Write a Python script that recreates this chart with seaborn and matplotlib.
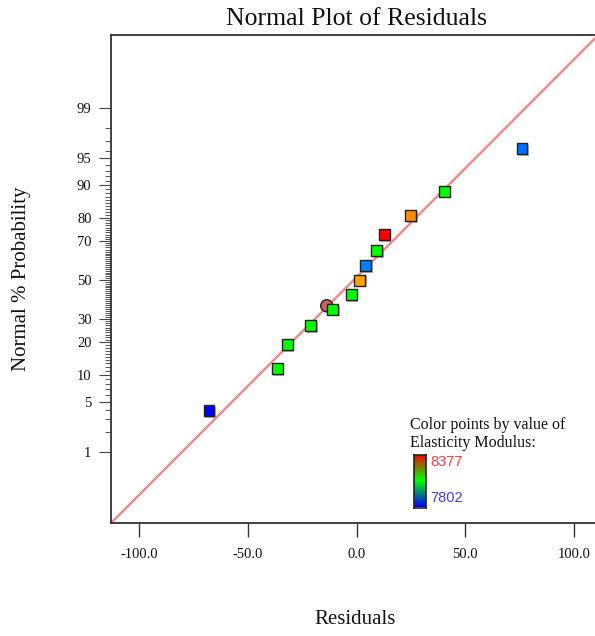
import matplotlib
matplotlib.use('Agg')
import numpy as np
import pandas as pd
import seaborn as sns
from matplotlib import pyplot as plt
from matplotlib import patheffects
from matplotlib.colors import LinearSegmentedColormap
from statistics import NormalDist

# values
residuals = [-68.0, -36.6, -32.0, -21.2, -11.1, -2.5, 1.5, 4.0, 9.2, 12.6, 24.9, 40.3, 76.1]
probability = [3.9, 11.5, 19.2, 26.9, 34.6, 42.3, 50.0, 57.7, 65.4, 73.1, 80.8, 88.5, 96.2]
modulus = [7802, 8090, 8090, 8090, 8090, 8090, 8284, 7874, 8090, 8377, 8298, 8090, 7866]

# the one run drawn as a circle
highlight_residual = [-13.8]
highlight_probability = [36.4]

# fitted normal line: residual = mean + sd * z
line_mean = -1.4
line_sd = 34.0

modulus_range = (7802, 8377)
y_major = [1, 5, 10, 20, 30, 50, 70, 80, 90, 95, 99]
y_minor = [p for p in range(1, 100) if p not in y_major]
x_ticks = [-100.0, -50.0, 0.0, 50.0, 100.0]


def probit(p):
    return NormalDist().inv_cdf(p / 100.0)


df = pd.DataFrame({'residual': residuals, 'probability': probability, 'modulus': modulus})
df['z'] = df['probability'].apply(probit)
hl = pd.DataFrame({'residual': highlight_residual, 'probability': highlight_probability})
hl['z'] = hl['probability'].apply(probit)

sns.set_style('white')
plt.rcParams['font.family'] = ['Liberation Serif', 'DejaVu Serif']

fig = plt.figure(figsize=(5.95, 6.36), dpi=100)
ax = fig.add_axes([111 / 595, 113 / 636, 491.4 / 595, 488 / 636])

ylim = (-3.285, 3.313)
line_df = pd.DataFrame({'z': np.array(ylim) * 1.05})
line_df['residual'] = line_mean + line_sd * line_df['z']
sns.lineplot(data=line_df, x='residual', y='z', color='#f58585', lw=1.7, ax=ax, sort=False)

# marker colours: blue -> cyan -> green -> yellow -> red
point_cmap = LinearSegmentedColormap.from_list(
    'points', ['#0000ff', '#00ffff', '#00ff00', '#ffff00', '#ff0000'])
shadow = [patheffects.SimplePatchShadow(offset=(1.2, -1.2), shadow_rgbFace='#888888', alpha=0.6),
          patheffects.Normal()]

sns.scatterplot(data=hl, x='residual', y='z', marker='o', s=75, color='#cd6060',
                edgecolor='#222222', linewidth=1, ax=ax, zorder=3)
sns.scatterplot(data=df, x='residual', y='z', hue='modulus', palette=point_cmap,
                hue_norm=modulus_range, marker='s', s=62, edgecolor='#222222',
                linewidth=1, legend=False, ax=ax, zorder=4)
for coll in ax.collections:
    coll.set_path_effects(shadow)

ax.set_xlim(-113.1, 113.1)
ax.set_ylim(*ylim)
ax.set_xticks(x_ticks)
ax.set_xticklabels([f'{v:.1f}' for v in x_ticks])
ax.set_yticks([probit(p) for p in y_major])
ax.set_yticklabels([str(p) for p in y_major])
ax.set_yticks([probit(p) for p in y_minor], minor=True)
ax.set_xlabel('')
ax.set_ylabel('')

for side in ['left', 'top', 'bottom']:
    ax.spines[side].set_color('#333333')
    ax.spines[side].set_linewidth(1.3)
ax.spines['right'].set_visible(False)

ax.tick_params(axis='x', which='major', bottom=True, length=10, width=1.0, color='#333333',
               pad=8, labelsize=10.5, labelcolor='#111111')
ax.tick_params(axis='y', which='major', left=True, length=9, width=0.8, color='#444444',
               pad=5, labelsize=10.5, labelcolor='#111111')
ax.tick_params(axis='y', which='minor', left=True, length=4.2, width=0.7, color='#555555')

fig.text(356.5 / 595, 1 - 19 / 636, 'Normal Plot of Residuals', ha='center', va='center',
         fontsize=18.5, color='#111111')
fig.text(355 / 595, 1 - 620 / 636, 'Residuals', ha='center', va='center', fontsize=15,
         color='#111111')
fig.text(22 / 595, 1 - 279 / 636, 'Normal % Probability', ha='center', va='center',
         rotation=90, fontsize=15, color='#111111')

# colour legend
fig.text(410.5 / 595, 1 - 425 / 636, 'Color points by value of', ha='left', va='center',
         fontsize=11.5, color='#111111')
fig.text(410.5 / 595, 1 - 443 / 636, 'Elasticity Modulus:', ha='left', va='center',
         fontsize=11.5, color='#111111')
bar_cmap = LinearSegmentedColormap.from_list('bar', ['#0000ff', '#00ff00', '#ff0000'])
cax = fig.add_axes([414 / 595, (636 - 507.5) / 636, 12 / 595, 53 / 636])
cax.imshow(np.linspace(0, 1, 100).reshape(-1, 1), cmap=bar_cmap, aspect='auto', origin='lower')
cax.set_xticks([])
cax.set_yticks([])
for s in cax.spines.values():
    s.set_color('#222222')
    s.set_linewidth(1.2)
fig.text(430.5 / 595, 1 - 462 / 636, str(modulus_range[1]), ha='left', va='center',
         fontsize=10.5, color='#ff3b3b', family=['Liberation Sans', 'DejaVu Sans'])
fig.text(430.5 / 595, 1 - 498 / 636, str(modulus_range[0]), ha='left', va='center',
         fontsize=10.5, color='#3b3bff', family=['Liberation Sans', 'DejaVu Sans'])

fig.savefig('out.png', dpi=100)
